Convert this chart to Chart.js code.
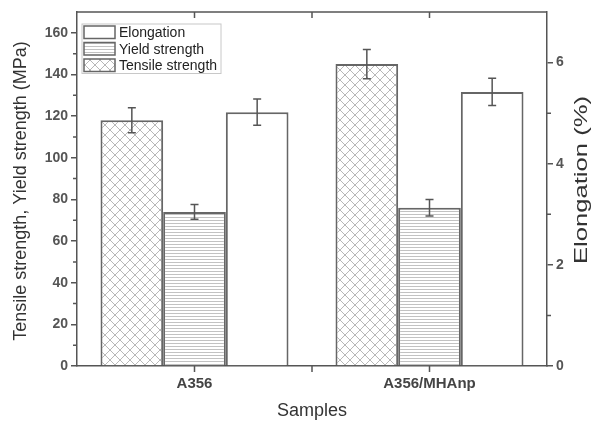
<!DOCTYPE html>
<html>
<head>
<meta charset="utf-8">
<script src="https://cdn.jsdelivr.net/npm/chart.js@4"></script>
<style>
  html, body { margin: 0; padding: 0; background: #fff; }
  #wrap { width: 592px; height: 423px; }
</style>
</head>
<body>
<div id="wrap"><canvas id="chart"></canvas></div>
<script>
const samples = ['A356', 'A356/MHAnp'];
const tensile = [118, 145];
const tensileErr = [6, 7];
const yieldStr = [74, 76];
const yieldErr = [3.5, 4];
const elongation = [5.02, 5.42];
const elongationErr = [0.26, 0.27];
const leftTicks = [0, 20, 40, 60, 80, 100, 120, 140, 160];
const rightTicks = [0, 2, 4, 6];

const makePattern = (kind) => {
    const c = document.createElement('canvas');
    const ctx = c.getContext('2d');
    if (kind === 'cross') {
        c.width = 10; c.height = 10;
        ctx.fillStyle = '#fff';
        ctx.fillRect(0, 0, 10, 10);
        ctx.strokeStyle = '#999';
        ctx.lineWidth = 0.7;
        ctx.beginPath();
        ctx.moveTo(0, 0); ctx.lineTo(10, 10);
        ctx.moveTo(10, 0); ctx.lineTo(0, 10);
        ctx.stroke();
    } else {
        c.width = 4; c.height = 3;
        ctx.fillStyle = '#fff';
        ctx.fillRect(0, 0, 4, 3);
        ctx.fillStyle = '#c2c2c2';
        ctx.fillRect(0, 1, 4, 1);
    }
    return ctx.createPattern(c, 'repeat');
};

const crossFill = makePattern('cross');
const lineFill = makePattern('lines');

const titleFont = '18px "Liberation Sans", Arial, sans-serif';

// error bars, minor ticks, frame, titles and legend drawn on top
const extras = {
    id: 'extras',
    afterDatasetsDraw(chart) {
        const ctx = chart.ctx;
        const errs = [tensileErr, yieldErr, elongationErr];
        const vals = [tensile, yieldStr, elongation];
        ctx.save();
        ctx.strokeStyle = '#555';
        ctx.lineWidth = 1.5;
        chart.data.datasets.forEach((ds, i) => {
            const meta = chart.getDatasetMeta(i);
            const scale = chart.scales[ds.yAxisID];
            meta.data.forEach((bar, j) => {
                const hi = scale.getPixelForValue(vals[i][j] + errs[i][j]);
                const lo = scale.getPixelForValue(vals[i][j] - errs[i][j]);
                ctx.beginPath();
                ctx.moveTo(bar.x, hi); ctx.lineTo(bar.x, lo);
                ctx.moveTo(bar.x - 4, hi); ctx.lineTo(bar.x + 4, hi);
                ctx.moveTo(bar.x - 4, lo); ctx.lineTo(bar.x + 4, lo);
                ctx.stroke();
            });
        });
        ctx.restore();
    },
    afterDraw(chart) {
        const ctx = chart.ctx;
        const a = chart.chartArea;
        const y = chart.scales.y, y1 = chart.scales.y1, x = chart.scales.x;
        ctx.save();
        ctx.strokeStyle = '#555';
        ctx.lineWidth = 1.5;
        ctx.beginPath();
        ctx.moveTo(a.left, a.top); ctx.lineTo(a.right, a.top);
        ctx.stroke();
        ctx.beginPath();
        for (let v = 10; v < 170; v += 20) {
            const p = y.getPixelForValue(v);
            ctx.moveTo(a.left - 4, p); ctx.lineTo(a.left, p);
        }
        for (let v = 1; v < 7; v += 2) {
            const p = y1.getPixelForValue(v);
            ctx.moveTo(a.right, p); ctx.lineTo(a.right + 4, p);
        }
        const xs = [x.getPixelForValue(0), (x.getPixelForValue(0) + x.getPixelForValue(1)) / 2, x.getPixelForValue(1)];
        xs.forEach(px => {
            ctx.moveTo(px, a.bottom); ctx.lineTo(px, a.bottom + 6);
            ctx.moveTo(px, a.top); ctx.lineTo(px, a.top + 6);
        });
        ctx.stroke();

        // axis titles
        ctx.fillStyle = '#333';
        ctx.font = titleFont;
        ctx.textAlign = 'center';
        ctx.textBaseline = 'middle';
        ctx.fillText('Samples', (a.left + a.right) / 2, 411);
        ctx.save();
        ctx.translate(21, 191);
        ctx.rotate(-Math.PI / 2);
        ctx.fillText('Tensile strength, Yield strength (MPa)', 0, 0);
        ctx.restore();
        ctx.save();
        ctx.translate(582, 180);
        ctx.rotate(-Math.PI / 2);
        ctx.scale(1.35, 1);
        ctx.font = '19px "Liberation Sans", Arial, sans-serif';
        ctx.fillText('Elongation (%)', 0, 0);
        ctx.restore();

        // legend box
        const lx = 82, ly = 24, lw = 139, rowH = 16.5;
        const items = [
            ['Elongation', '#fff'],
            ['Yield strength', lineFill],
            ['Tensile strength', crossFill]
        ];
        ctx.fillStyle = '#fff';
        ctx.fillRect(lx, ly, lw, rowH * 3);
        ctx.strokeStyle = '#c8c8c8';
        ctx.lineWidth = 1;
        ctx.strokeRect(lx, ly, lw, rowH * 3);
        ctx.font = '14px "Liberation Sans", Arial, sans-serif';
        ctx.textAlign = 'left';
        ctx.textBaseline = 'middle';
        items.forEach((it, k) => {
            const ry = ly + k * rowH;
            ctx.fillStyle = it[1];
            ctx.fillRect(lx + 2, ry + 2, 31, rowH - 4);
            ctx.strokeStyle = '#666';
            ctx.lineWidth = 1.5;
            ctx.strokeRect(lx + 2, ry + 2, 31, rowH - 4);
            ctx.fillStyle = '#222';
            ctx.fillText(it[0], lx + 37, ry + rowH / 2 + 1);
        });
        ctx.restore();
    }
};

const tickFont = { family: '"Liberation Sans", Arial, sans-serif', size: 14, weight: 'bold' };

new Chart(document.getElementById('chart'), {
    type: 'bar',
    data: {
        labels: samples,
        datasets: [
            { label: 'Tensile strength', data: tensile, yAxisID: 'y', backgroundColor: crossFill, borderColor: '#666', borderWidth: 2 },
            { label: 'Yield strength', data: yieldStr, yAxisID: 'y', backgroundColor: lineFill, borderColor: '#666', borderWidth: 2 },
            { label: 'Elongation', data: elongation, yAxisID: 'y1', backgroundColor: '#fff', borderColor: '#666', borderWidth: 2 }
        ]
    },
    options: {
        responsive: true,
        maintainAspectRatio: false,
        animation: false,
        layout: { padding: { top: 12, left: 0, right: 0, bottom: 0 } },
        datasets: { bar: { categoryPercentage: 0.8, barPercentage: 1 } },
        plugins: { legend: { display: false }, tooltip: { enabled: false } },
        scales: {
            x: {
                grid: { display: false },
                border: { display: true, color: '#555', width: 1.5 },
                ticks: { color: '#444', font: { ...tickFont, size: 15 }, padding: 1 },
                afterFit: (s) => { s.height = 57; }
            },
            y: {
                position: 'left',
                min: 0, max: 170,
                afterBuildTicks: (s) => { s.ticks = leftTicks.map(v => ({ value: v })); },
                grid: { drawOnChartArea: false, drawTicks: true, tickLength: 6, tickColor: '#555', lineWidth: 1.5 },
                border: { display: true, color: '#555', width: 1.5 },
                ticks: { color: '#555', font: tickFont, padding: 3 },
                afterFit: (s) => { s.width = 77; }
            },
            y1: {
                position: 'right',
                min: 0, max: 7,
                afterBuildTicks: (s) => { s.ticks = rightTicks.map(v => ({ value: v })); },
                grid: { drawOnChartArea: false, drawTicks: true, tickLength: 6, tickColor: '#555', lineWidth: 1.5 },
                border: { display: true, color: '#555', width: 1.5 },
                ticks: { color: '#555', font: tickFont, padding: 3 },
                afterFit: (s) => { s.width = 45; }
            }
        }
    },
    plugins: [extras]
});
</script>
</body>
</html>
